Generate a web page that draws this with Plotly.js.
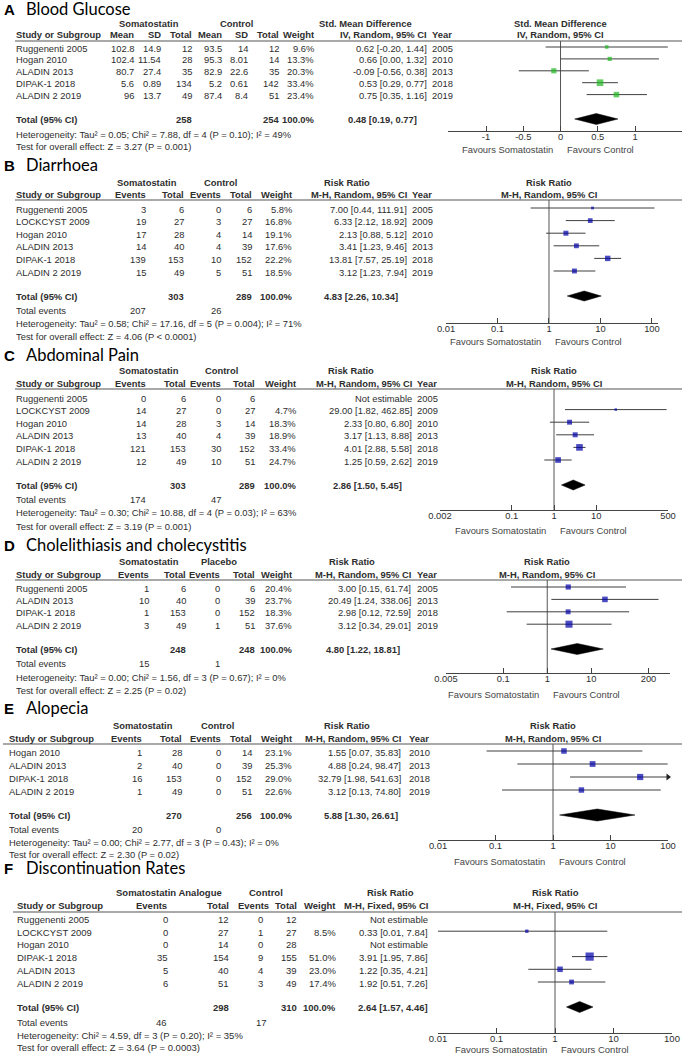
<!DOCTYPE html>
<html><head><meta charset="utf-8">
<script src="https://cdn.plot.ly/plotly-3.0.1.min.js"></script>
<style>html,body{margin:0;padding:0;background:#fff;overflow:hidden}#chart{width:682px;height:1056px}</style>
</head><body><div id="chart"></div>
<script>
// ================= DATA =================
// A  Blood Glucose
const studiesA=["Ruggenenti 2005","Hogan 2010","ALADIN 2013","DIPAK-1 2018","ALADIN 2 2019"];
const somMeanA=[102.8,102.4,80.7,5.6,96];
const somSdA=[14.9,11.54,27.4,0.89,13.7];
const somTotalA=[12,28,35,134,49];
const ctlMeanA=[93.5,95.3,82.9,5.2,87.4];
const ctlSdA=[14,8.01,22.6,0.61,8.4];
const ctlTotalA=[12,14,35,142,51];
const weightA=[9.6,13.3,20.3,33.4,23.4];
const estA=[0.62,0.66,-0.09,0.53,0.75];
const loA=[-0.20,0.00,-0.56,0.29,0.35];
const hiA=[1.44,1.32,0.38,0.77,1.16];
const yearA=[2005,2010,2013,2018,2019];
const totalNA=[258,254];
const totalEstA=[0.48,0.19,0.77];
const hetA="Heterogeneity: Tau² = 0.05; Chi² = 7.88, df = 4 (P = 0.10); I² = 49%";
const testA="Test for overall effect: Z = 3.27 (P = 0.001)";
const tickValsA=[-1,-0.5,0,0.5,1];
const tickTextA=["-1","-0.5","0","0.5","1"];

// B  Diarrhoea
const studiesB=["Ruggenenti 2005","LOCKCYST 2009","Hogan 2010","ALADIN 2013","DIPAK-1 2018","ALADIN 2 2019"];
const somEvB=[3,19,17,14,139,15];
const somTotalB=[6,27,28,40,153,49];
const ctlEvB=[0,3,4,4,10,5];
const ctlTotalB=[6,27,14,39,152,51];
const weightB=[5.8,16.8,19.1,17.6,22.2,18.5];
const estB=[7.00,6.33,2.13,3.41,13.81,3.12];
const loB=[0.44,2.12,0.88,1.23,7.57,1.23];
const hiB=[111.91,18.92,5.12,9.46,25.19,7.94];
const yearB=[2005,2009,2010,2013,2018,2019];
const totalNB=[303,289];
const totalEstB=[4.83,2.26,10.34];
const totalEventsB=[207,26];
const hetB="Heterogeneity: Tau² = 0.58; Chi² = 17.16, df = 5 (P = 0.004); I² = 71%";
const testB="Test for overall effect: Z = 4.06 (P < 0.0001)";
const tickValsB=[0.01,0.1,1,10,100];
const tickTextB=["0.01","0.1","1","10","100"];

// C  Abdominal Pain
const studiesC=["Ruggenenti 2005","LOCKCYST 2009","Hogan 2010","ALADIN 2013","DIPAK-1 2018","ALADIN 2 2019"];
const somEvC=[0,14,14,13,121,12];
const somTotalC=[6,27,28,40,153,49];
const ctlEvC=[0,0,3,4,30,10];
const ctlTotalC=[6,27,14,39,152,51];
const weightC=[null,4.7,18.3,18.9,33.4,24.7];
const estC=[null,29.00,2.33,3.17,4.01,1.25];
const loC=[null,1.82,0.80,1.13,2.88,0.59];
const hiC=[null,462.85,6.80,8.88,5.58,2.62];
const yearC=[2005,2009,2010,2013,2018,2019];
const totalNC=[303,289];
const totalEstC=[2.86,1.50,5.45];
const totalEventsC=[174,47];
const hetC="Heterogeneity: Tau² = 0.30; Chi² = 10.88, df = 4 (P = 0.03); I² = 63%";
const testC="Test for overall effect: Z = 3.19 (P = 0.001)";
const tickValsC=[0.002,0.1,1,10,500];
const tickTextC=["0.002","0.1","1","10","500"];

// D  Cholelithiasis and cholecystitis
const studiesD=["Ruggenenti 2005","ALADIN 2013","DIPAK-1 2018","ALADIN 2 2019"];
const somEvD=[1,10,1,3];
const somTotalD=[6,40,153,49];
const ctlEvD=[0,0,0,1];
const ctlTotalD=[6,39,152,51];
const weightD=[20.4,23.7,18.3,37.6];
const estD=[3.00,20.49,2.98,3.12];
const loD=[0.15,1.24,0.12,0.34];
const hiD=[61.74,338.06,72.59,29.01];
const yearD=[2005,2013,2018,2019];
const totalND=[248,248];
const totalEstD=[4.80,1.22,18.81];
const totalEventsD=[15,1];
const hetD="Heterogeneity: Tau² = 0.00; Chi² = 1.56, df = 3 (P = 0.67); I² = 0%";
const testD="Test for overall effect: Z = 2.25 (P = 0.02)";
const tickValsD=[0.005,0.1,1,10,200];
const tickTextD=["0.005","0.1","1","10","200"];

// E  Alopecia
const studiesE=["Hogan 2010","ALADIN 2013","DIPAK-1 2018","ALADIN 2 2019"];
const somEvE=[1,2,16,1];
const somTotalE=[28,40,153,49];
const ctlEvE=[0,0,0,0];
const ctlTotalE=[14,39,152,51];
const weightE=[23.1,25.3,29.0,22.6];
const estE=[1.55,4.88,32.79,3.12];
const loE=[0.07,0.24,1.98,0.13];
const hiE=[35.83,98.47,541.63,74.80];
const yearE=[2010,2013,2018,2019];
const totalNE=[270,256];
const totalEstE=[5.88,1.30,26.61];
const totalEventsE=[20,0];
const hetE="Heterogeneity: Tau² = 0.00; Chi² = 2.77, df = 3 (P = 0.43); I² = 0%";
const testE="Test for overall effect: Z = 2.30 (P = 0.02)";
const tickValsE=[0.01,0.1,1,10,100];
const tickTextE=["0.01","0.1","1","10","100"];

// F  Discontinuation Rates
const studiesF=["Ruggenenti 2005","LOCKCYST 2009","Hogan 2010","DIPAK-1 2018","ALADIN 2013","ALADIN 2 2019"];
const somEvF=[0,0,0,35,5,6];
const somTotalF=[12,27,14,154,40,51];
const ctlEvF=[0,1,0,9,4,3];
const ctlTotalF=[12,27,28,155,39,49];
const weightF=[null,8.5,null,51.0,23.0,17.4];
const estF=[null,0.33,null,3.91,1.22,1.92];
const loF=[null,0.01,null,1.95,0.35,0.51];
const hiF=[null,7.84,null,7.86,4.21,7.26];
const totalNF=[298,310];
const totalEstF=[2.64,1.57,4.46];
const totalEventsF=[46,17];
const hetF="Heterogeneity: Chi² = 4.59, df = 3 (P = 0.20); I² = 35%";
const testF="Test for overall effect: Z = 3.64 (P = 0.0003)";
const tickValsF=[0.01,0.1,1,10,100];
const tickTextF=["0.01","0.1","1","10","100"];

// ================= LAYOUT / STYLE =================
const W=682,H=1056;
const FONT='"Liberation Sans", Arial, sans-serif';
const TXT='#2e2e2e';
const BLUE='#0000a8', GREEN='#1fb81f';

const panels=[
 {letter:'A',title:'Blood Glucose',color:GREEN,studies:studiesA,est:estA,lo:loA,hi:hiA,weight:weightA,years:yearA,
  cols:[[somMeanA,135],[somSdA,162],[somTotalA,193],[ctlMeanA,223],[ctlSdA,249],[ctlTotalA,280],[weightA,315,'pct']],
  groups:[['Somatostatin',149],['Control',236],['Std. Mean Difference',365]],
  heads:[['Study or Subgroup',15,'left'],['Mean',135],['SD',162],['Total',193],['Mean',223],['SD',249],['Total',280],['Weight',315],['IV, Random, 95% CI',428]],
  totN:totalNA,totNX:[193,280],totEst:totalEstA,totCiX:347,totCiA:'left',weightX:315,events:null,eventsX:null,
  het:hetA,test:testA,fHead:['Std. Mean Difference','IV, Random, 95% CI'],
  tickVals:tickValsA,tickText:tickTextA,type:'linear',nullX:0,xr:[-1.51,1.63],dom:[448,682],
  studyX:15,lineX0:15,ciX:428,yearX:431,
  titleY:9,groupY:23,colY:34,hlineY:41,row0:48,rowSp:11.9,totalY:119,eventsY:null,hetY:134,testY:146,axisY:131,favY:149,dH:5.5,fs:9.4},
 {letter:'B',title:'Diarrhoea',color:BLUE,studies:studiesB,est:estB,lo:loB,hi:hiB,weight:weightB,years:yearB,
  cols:[[somEvB,147],[somTotalB,185],[ctlEvB,222],[ctlTotalB,253],[weightB,293,'pct']],
  groups:[['Somatostatin',147],['Control',220],['Risk Ratio',347]],
  heads:[['Study or Subgroup',15,'left'],['Events',147],['Total',185],['Events',222],['Total',253],['Weight',293],['M-H, Random, 95% CI',408]],
  totN:totalNB,totNX:[185,253],totEst:totalEstB,totCiX:323,totCiA:'left',weightX:293,events:totalEventsB,eventsX:[147,222],
  het:hetB,test:testB,fHead:['Risk Ratio','M-H, Random, 95% CI'],
  tickVals:tickValsB,tickText:tickTextB,type:'log',nullX:1,xr:[-2,2.117],dom:[446,658],
  studyX:15,lineX0:15,ciX:408,yearX:411,
  titleY:165,groupY:182,colY:194,hlineY:200,row0:209,rowSp:12.6,totalY:296,eventsY:310,hetY:323,testY:336,axisY:323,favY:341,dH:5,fs:9.4},
 {letter:'C',title:'Abdominal Pain',color:BLUE,studies:studiesC,est:estC,lo:loC,hi:hiC,weight:weightC,years:yearC,
  cols:[[somEvC,147],[somTotalC,187],[ctlEvC,222],[ctlTotalC,256],[weightC,297,'pct']],
  groups:[['Somatostatin',149],['Control',221],['Risk Ratio',351]],
  heads:[['Study or Subgroup',15,'left'],['Events',147],['Total',187],['Events',222],['Total',256],['Weight',297],['M-H, Random, 95% CI',413]],
  totN:totalNC,totNX:[187,256],totEst:totalEstC,totCiX:332,totCiA:'left',weightX:297,events:totalEventsC,eventsX:[147,222],
  het:hetC,test:testC,fHead:['Risk Ratio','M-H, Random, 95% CI'],
  tickVals:tickValsC,tickText:tickTextC,type:'log',nullX:1,xr:[-2.699,2.699],dom:[440,668],
  studyX:15,lineX0:15,ciX:413,yearX:416,
  titleY:355,groupY:370,colY:383,hlineY:389,row0:398,rowSp:12.6,totalY:485,eventsY:499,hetY:512,testY:526,axisY:510,favY:530,dH:5,fs:9.4},
 {letter:'D',title:'Cholelithiasis and cholecystitis',color:BLUE,studies:studiesD,est:estD,lo:loD,hi:hiD,weight:weightD,years:yearD,
  cols:[[somEvD,150],[somTotalD,187],[ctlEvD,221],[ctlTotalD,256],[weightD,293,'pct']],
  groups:[['Somatostatin',149],['Placebo',219],['Risk Ratio',352]],
  heads:[['Study or Subgroup',15,'left'],['Events',150],['Total',187],['Events',221],['Total',256],['Weight',293],['M-H, Random, 95% CI',412]],
  totN:totalND,totNX:[187,256],totEst:totalEstD,totCiX:325,totCiA:'left',weightX:293,events:totalEventsD,eventsX:[150,221],
  het:hetD,test:testD,fHead:['Risk Ratio','M-H, Random, 95% CI'],
  tickVals:tickValsD,tickText:tickTextD,type:'log',nullX:1,xr:[-2.301,2.79],dom:[446,670],
  studyX:15,lineX0:15,ciX:412,yearX:416,
  titleY:545,groupY:561,colY:574,hlineY:580,row0:588,rowSp:12.4,totalY:649,eventsY:663,hetY:677,testY:690,axisY:673,favY:694,dH:5.5,fs:9.4},
 {letter:'E',title:'Alopecia',color:BLUE,studies:studiesE,est:estE,lo:loE,hi:hiE,weight:weightE,years:yearE,
  cols:[[somEvE,143],[somTotalE,183],[ctlEvE,222],[ctlTotalE,253],[weightE,293,'pct']],
  groups:[['Somatostatin',143],['Control',217],['Risk Ratio',347]],
  heads:[['Study or Subgroup',8,'left'],['Events',143],['Total',183],['Events',222],['Total',253],['Weight',293],['M-H, Random, 95% CI',402]],
  totN:totalNE,totNX:[183,253],totEst:totalEstE,totCiX:323,totCiA:'left',weightX:293,events:totalEventsE,eventsX:[143,222],
  het:hetE,test:testE,fHead:['Risk Ratio','M-H, Random, 95% CI'],
  tickVals:tickValsE,tickText:tickTextE,type:'log',nullX:1,xr:[-2,2],dom:[438,668],
  studyX:8,lineX0:3,ciX:402,yearX:408,
  titleY:708,groupY:725,colY:738,hlineY:744,row0:752,rowSp:13,totalY:815,eventsY:829,hetY:842,testY:854,axisY:840,favY:861,dH:6,fs:9.4},
 {letter:'F',title:'Discontinuation Rates',color:BLUE,studies:studiesF,est:estF,lo:loF,hi:hiF,weight:weightF,years:null,
  cols:[[somEvF,169],[somTotalF,230],[ctlEvF,264],[ctlTotalF,298],[weightF,337,'pct']],
  groups:[['Somatostatin Analogue',169],['Control',266],['Risk Ratio',390]],
  heads:[['Study or Subgroup',16,'left'],['Events',168],['Total',230],['Events',270],['Total',298],['Weight',337],['M-H, Fixed, 95% CI',429]],
  totN:totalNF,totNX:[230,298],totEst:totalEstF,totCiX:429,totCiA:'right',weightX:337,events:totalEventsF,eventsX:[168,268],
  het:hetF,test:testF,fHead:['Risk Ratio','M-H, Fixed, 95% CI'],
  tickVals:tickValsF,tickText:tickTextF,type:'log',nullX:1,xr:[-2,2],dom:[438,672],
  studyX:16,lineX0:13,ciX:429,yearX:null,
  titleY:868,groupY:892,colY:905,hlineY:912,row0:919.5,rowSp:12.7,totalY:1007,eventsY:1022,hetY:1035,testY:1047,axisY:1033,favY:1049.5,dH:5.5,fs:9.5}
];

// ================= BUILD =================
const f2=v=>v.toFixed(2);
const ciStr=(e,l,h)=>e==null?'Not estimable':f2(e)+' ['+f2(l)+', '+f2(h)+']';
const fmt=(v,k)=>v==null?'':(k==='pct'?v.toFixed(1)+'%':String(v));

const traces=[], ann=[];
const layout={width:W,height:H,margin:{l:0,r:0,t:0,b:0,pad:0},paper_bgcolor:'#ffffff',plot_bgcolor:'rgba(0,0,0,0)',
  showlegend:false,hovermode:false,
  xaxis:{range:[0,W],visible:false,fixedrange:true},
  yaxis:{range:[H,0],visible:false,fixedrange:true}};

function T(x,y,text,anchor,opt){
  opt=opt||{};
  ann.push({xref:opt.xref||'x',yref:'y',x:x,y:y,xshift:opt.xshift||0,text:text,showarrow:false,
    xanchor:anchor||'right',yanchor:'middle',borderpad:0,
    font:{family:opt.family||FONT,size:opt.size||9,color:opt.color||TXT}});
}

panels.forEach((p,k)=>{
  const ax='x'+(k+2), axName='xaxis'+(k+2);
  const isLog=p.type==='log';
  const lv=v=>isLog?Math.log10(v):v;
  const minV=isLog?Math.pow(10,p.xr[0]):p.xr[0];
  const maxV=isLog?Math.pow(10,p.xr[1]):p.xr[1];
  const fs=p.fs;
  const ry=i=>p.row0+p.rowSp*i;

  // titles
  T(3,p.titleY,'<b>'+p.letter+'</b>','left',{size:15,color:'#000'});
  T(25,p.titleY,p.title,'left',{size:16.5,color:'#000',family:'Lato, "Open Sans", sans-serif'});

  // table headers
  p.groups.forEach(g=>T(g[1],p.groupY,'<b>'+g[0]+'</b>','center',{size:fs}));
  p.heads.forEach(h=>T(h[1],p.colY,'<b>'+h[0]+'</b>',h[2]||'right',{size:fs}));
  if(p.years) T(p.yearX,p.colY,'<b>Year</b>','left',{size:fs});

  // rows
  p.studies.forEach((s,i)=>T(p.studyX,ry(i),s,'left',{size:fs}));
  p.cols.forEach(c=>c[0].forEach((v,i)=>{const s=fmt(v,c[2]); if(s!=='') T(c[1],ry(i),s,'right',{size:fs});}));
  p.est.forEach((e,i)=>T(p.ciX,ry(i),ciStr(e,p.lo[i],p.hi[i]),'right',{size:fs}));
  if(p.years) p.years.forEach((y,i)=>T(p.yearX,ry(i),String(y),'left',{size:fs}));

  // totals
  T(p.studyX,p.totalY,'<b>Total (95% CI)</b>','left',{size:fs});
  p.totN.forEach((n,j)=>T(p.totNX[j],p.totalY,'<b>'+n+'</b>','right',{size:fs}));
  T(p.weightX,p.totalY,'<b>100.0%</b>','right',{size:fs});
  T(p.totCiX,p.totalY,'<b>'+ciStr(p.totEst[0],p.totEst[1],p.totEst[2])+'</b>',p.totCiA,{size:fs});
  if(p.events){
    T(p.studyX,p.eventsY,'Total events','left',{size:fs});
    p.events.forEach((v,j)=>T(p.eventsX[j],p.eventsY,String(v),'right',{size:fs}));
  }
  T(p.studyX,p.hetY,p.het,'left',{size:fs});
  T(p.studyX,p.testY,p.test,'left',{size:fs});

  // header rule
  traces.push({type:'scatter',mode:'lines',x:[p.lineX0,W],y:[p.hlineY,p.hlineY],xaxis:'x',yaxis:'y',
    line:{color:'#8c8c8c',width:1.6},hoverinfo:'skip'});

  // forest axis
  layout[axName]={domain:[p.dom[0]/W,p.dom[1]/W],anchor:'free',position:1-p.axisY/H,type:p.type,range:p.xr,
    tickmode:'array',tickvals:p.tickVals,ticktext:p.tickText,ticks:'inside',ticklen:5,tickwidth:1,tickcolor:'#444',
    showline:true,linecolor:'#444',linewidth:1,showgrid:false,zeroline:false,fixedrange:true,
    tickfont:{family:FONT,size:fs,color:TXT},ticklabelstandoff:-3};

  // forest header + favours
  T(lv(p.nullX),p.groupY,'<b>'+p.fHead[0]+'</b>','center',{xref:ax,size:fs});
  T(lv(p.nullX),p.colY,'<b>'+p.fHead[1]+'</b>','center',{xref:ax,size:fs});
  T(lv(p.nullX),p.favY,'Favours Somatostatin','right',{xref:ax,size:fs,xshift:-7,color:'#444'});
  T(lv(p.nullX),p.favY,'Favours Control','left',{xref:ax,size:fs,xshift:5,color:'#444'});

  // line of no effect
  traces.push({type:'scatter',mode:'lines',x:[p.nullX,p.nullX],y:[p.hlineY,p.axisY],xaxis:ax,yaxis:'y',
    line:{color:'#555',width:1},hoverinfo:'skip'});

  // confidence intervals
  const cx=[],cy=[],ax2=[],ay=[],sx=[],sy=[],ss=[];
  p.est.forEach((e,i)=>{
    if(e==null) return;
    const r=ry(i)-1;
    cx.push(Math.max(p.lo[i],minV),Math.min(p.hi[i],maxV),null); cy.push(r,r,null);
    if(p.hi[i]>maxV){ax2.push(maxV);ay.push(r);}
    sx.push(e); sy.push(r); ss.push(1.15*Math.sqrt(p.weight[i]));
  });
  traces.push({type:'scatter',mode:'lines',x:cx,y:cy,xaxis:ax,yaxis:'y',line:{color:'#3f3f3f',width:1},hoverinfo:'skip'});
  if(ax2.length) traces.push({type:'scatter',mode:'markers',x:ax2,y:ay,xaxis:ax,yaxis:'y',cliponaxis:false,
    marker:{symbol:'triangle-right',size:6,color:'#222'},hoverinfo:'skip'});
  traces.push({type:'scatter',mode:'markers',x:sx,y:sy,xaxis:ax,yaxis:'y',cliponaxis:false,
    marker:{symbol:'square',size:ss,color:p.color,line:{width:0}},hoverinfo:'skip'});

  // pooled diamond
  const te=p.totEst, t=p.totalY;
  traces.push({type:'scatter',mode:'lines',x:[te[1],te[0],te[2],te[0],te[1]],y:[t,t-p.dH,t,t+p.dH,t],
    xaxis:ax,yaxis:'y',fill:'toself',fillcolor:'#000',line:{color:'#000',width:0.5},hoverinfo:'skip'});
});

layout.annotations=ann;
Plotly.newPlot('chart',traces,layout,{staticPlot:true,displayModeBar:false});
</script>
</body></html>
